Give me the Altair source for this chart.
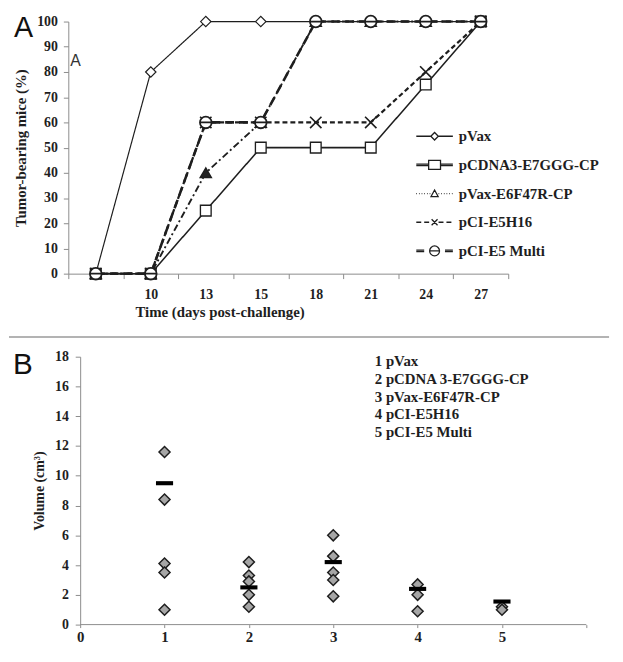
import altair as alt
import pandas as pd

# ---------------- Panel A data ----------------
SERIES = ["pVax", "pCDNA3-E7GGG-CP", "pVax-E6F47R-CP", "pCI-E5H16", "pCI-E5 Multi"]
DAYS = ["", "10", "13", "15", "18", "21", "24", "27"]
PVAX = [0, 80, 100, 100, 100, 100, 100, 100]
PCDNA3 = [0, 0, 25, 50, 50, 50, 75, 100]
E6F47R = [0, 0, 40, 60, 100, 100, 100, 100]
E5H16 = [0, 0, 60, 60, 60, 60, 80, 100]
MULTI = [0, 0, 60, 60, 100, 100, 100, 100]
Y_TICKS_A = list(range(0, 101, 10))

# ---------------- Panel B data ----------------
B_LABELS = ["1 pVax", "2 pCDNA 3-E7GGG-CP", "3 pVax-E6F47R-CP", "4 pCI-E5H16", "5 pCI-E5 Multi"]
GROUPS = [1, 2, 3, 4, 5]
G1 = [11.6, 8.4, 4.1, 3.5, 1.0]
G2 = [4.2, 3.3, 2.9, 2.0, 1.2]
G3 = [6.0, 4.6, 3.5, 3.0, 1.9]
G4 = [2.7, 2.0, 0.9]
G5 = [1.2, 1.0]
MEANS = [9.5, 2.5, 4.2, 2.4, 1.55]
X_TICKS_B = [0, 1, 2, 3, 4, 5, 6]
Y_TICKS_B = list(range(0, 19, 2))
PANEL_LABELS = ["A", "B"]
INSET_LABEL = ["A"]

SERIF = "Liberation Serif"
SANS = "Liberation Sans"
INK = "#1e1e1e"
GRAY = "#8c8c8c"

# ---------------- tables ----------------
rowsA = []
for s, vals in zip(SERIES, [PVAX, PCDNA3, E6F47R, E5H16, MULTI]):
    for i, (d, v) in enumerate(zip(DAYS, vals)):
        rowsA.append({"series": s, "day": d, "value": v, "idx": i})
dfA = pd.DataFrame(rowsA)
dfLeg = pd.DataFrame({"series": SERIES})

rowsB = []
for g, lab, vals in zip(GROUPS, B_LABELS, [G1, G2, G3, G4, G5]):
    for v in vals:
        rowsB.append({"group": g, "volume": v, "label": lab})
dfB = pd.DataFrame(rowsB)
dfM = pd.DataFrame({"group": GROUPS, "volume": MEANS})

# ---------------- styles ----------------
DASHES = [[1, 0], [1, 0], [7, 3, 2, 3], [5, 3], [9, 5]]
WIDTHS = [1.2, 2.6, 2.0, 2.2, 2.8]
CROSS = "M-1,-1L1,1M-1,1L1,-1"
CIRCLE_MINUS = "M-1,0A1,1,0,1,1,1,0A1,1,0,1,1,-1,0ZM-1,0L1,0"
SHAPES = ["diamond", "square", "triangle-up", CROSS, CIRCLE_MINUS]
SIZES = [110, 140, 32, 55, 170]
MARK_SW = [1.2, 1.8, 1.5, 1.5, 1.8]
FILLS = ["white", "white", "#222222", "white", "white"]


def segs(x0, x1, dash, gap, y=0.0):
    out = []
    x = x0
    while x < x1 - 1e-9:
        e = min(x + dash, x1)
        out.append(f"M{x:.2f},{y:.2f}L{e:.2f},{y:.2f}")
        x = e + gap
    return "".join(out)


def both_sides(inner, outer, dash, gap, thick=False):
    ys = [-0.08, 0.08] if thick else [0.0]
    out = ""
    for y in ys:
        out += segs(-outer, -inner, dash, gap, y) + segs(inner, outer, dash, gap, y)
    return out


L = 1.85
LEG_PATHS = [
    both_sides(0.42, L, 5, 0) + "M-0.38,0L0,-0.38L0.38,0L0,0.38Z",
    both_sides(0.6, L, 5, 0, thick=True) + "M-0.6,-0.45L0.6,-0.45L0.6,0.45L-0.6,0.45Z",
    both_sides(0.4, L, 0.07, 0.2) + "M0,-0.36L0.36,0.3L-0.36,0.3Z",
    both_sides(0.4, L, 0.5, 0.3) + "M-0.3,-0.3L0.3,0.3M-0.3,0.3L0.3,-0.3",
    both_sides(1.05, L, 0.8, 0, thick=True) + "M-0.5,0A0.5,0.5,0,1,1,0.5,0A0.5,0.5,0,1,1,-0.5,0ZM-0.5,0L0.5,0",
]

axis_common = dict(
    labelFont=SERIF, labelFontWeight="bold", labelColor=INK,
    titleFont=SERIF, titleFontWeight="bold", titleColor=INK,
    domainColor=GRAY, tickColor=GRAY, grid=False, labelOverlap=False,
)

# ---------------- Panel A ----------------
xA = alt.X(
    "day:O", sort=DAYS,
    scale=alt.Scale(type="band", paddingInner=0, paddingOuter=0),
    axis=alt.Axis(
        title="Time (days post-challenge)", labelAngle=0, tickBand="extent",
        labelFontSize=14, titleFontSize=15, tickSize=5, labelPadding=9,
        titlePadding=3, titleX=153, titleAlign="center", **axis_common,
    ),
)
scaleYA = alt.Scale(domain=[0, 100], nice=False)
yA = alt.Y(
    "value:Q", scale=scaleYA,
    axis=alt.Axis(
        title="Tumor-bearing mice (%)", values=Y_TICKS_A,
        labelFontSize=14, titleFontSize=15, tickSize=5, labelPadding=6,
        titlePadding=8, **axis_common,
    ),
)
yA_plain = alt.Y("value:Q", scale=scaleYA, axis=None)

baseA = alt.Chart(dfA)
linesA = baseA.mark_line(color=INK).encode(
    x=xA, y=yA,
    detail="series:N",
    order=alt.Order("idx:Q"),
    strokeDash=alt.StrokeDash("series:N", scale=alt.Scale(domain=SERIES, range=DASHES), legend=None),
    strokeWidth=alt.StrokeWidth("series:N", scale=alt.Scale(domain=SERIES, range=WIDTHS), legend=None),
)
pointsA = baseA.mark_point(filled=True, stroke=INK, opacity=1).encode(
    x=xA, y=yA_plain,
    shape=alt.Shape("series:N", scale=alt.Scale(domain=SERIES, range=SHAPES), legend=None),
    size=alt.Size("series:N", scale=alt.Scale(domain=SERIES, range=SIZES), legend=None),
    strokeWidth=alt.StrokeWidth("series:N", scale=alt.Scale(domain=SERIES, range=MARK_SW), legend=None),
    fill=alt.Fill("series:N", scale=alt.Scale(domain=SERIES, range=FILLS), legend=None),
)

# key (legend) of panel A: one row per series
legY = alt.Y("series:N", sort=SERIES, scale=alt.Scale(type="point", range=[116, 232], padding=0), axis=None)
legSym = alt.Chart(dfLeg).mark_point(
    filled=True, fill="white", stroke=INK, strokeWidth=1.3, size=400, opacity=1
).encode(
    x=alt.value(370.5), y=legY,
    shape=alt.Shape("series:N", scale=alt.Scale(domain=SERIES, range=LEG_PATHS), legend=None),
)
legTxt = alt.Chart(dfLeg).mark_text(
    font=SERIF, fontWeight="bold", fontSize=15, align="left", baseline="middle", color=INK
).encode(x=alt.value(395), y=legY, text="series:N")

panelA_label = alt.Chart(pd.DataFrame({"t": PANEL_LABELS[:1]})).mark_text(
    font=SANS, fontSize=29, align="left", baseline="alphabetic", color="#111111"
).encode(x=alt.value(-55), y=alt.value(16), text="t:N")
inset_label = alt.Chart(pd.DataFrame({"t": INSET_LABEL})).mark_text(
    font=SANS, fontSize=16, align="left", baseline="alphabetic", color="#333333"
).encode(x=alt.value(2), y=alt.value(45), text="t:N")

chartA = alt.layer(linesA, pointsA, legSym, legTxt, panelA_label, inset_label).resolve_scale(
    shape="independent", strokeWidth="independent", y="independent"
).properties(width=445, height=255)

# ---------------- Panel B ----------------
x_min_px = -12 / (512 / 6)
scaleXB = alt.Scale(domain=[x_min_px, X_TICKS_B[-1]], nice=False, zero=False)
scaleYB = alt.Scale(domain=[0, 18], nice=False)
axisXB = alt.Axis(
    title=None, values=X_TICKS_B, domain=False, tickSize=3, labelPadding=2,
    labelFontSize=15, format="d",
    labelExpr="datum.value == 6 ? '' : datum.label",
    **axis_common,
)
axisYB = alt.Axis(
    title="Volume  (cm³)", values=Y_TICKS_B, offset=-12, format="d",
    labelFontSize=14, titleFontSize=14, tickSize=5, labelPadding=7,
    titlePadding=8, **axis_common,
)
xB = alt.X("group:Q", scale=scaleXB, axis=axisXB)
yB = alt.Y("volume:Q", scale=scaleYB, axis=axisYB)

diamonds = alt.Chart(dfB).mark_point(
    shape="diamond", filled=True, stroke=INK, strokeWidth=1.5, size=125, opacity=1
).encode(
    x=xB, y=yB,
    fill=alt.Fill(
        "label:N",
        scale=alt.Scale(domain=B_LABELS, range=["#a6a6a6"] * 5),
        legend=alt.Legend(
            title=None, orient="none", legendX=295, legendY=-3,
            symbolSize=0, symbolOpacity=0, labelOffset=0, rowPadding=2,
            padding=0, labelFont=SERIF, labelFontWeight="bold",
            labelFontSize=15, labelColor=INK, labelLimit=400,
        ),
    ),
)
MEAN_PATH = "M-1,-0.24L1,-0.24L1,0.24L-1,0.24Z"
means = alt.Chart(dfM).mark_point(
    shape=MEAN_PATH, filled=True, color="#000000", size=300, opacity=1
).encode(x=xB, y=yB)

axis_line = alt.Chart(
    pd.DataFrame({"group": [X_TICKS_B[0]], "g2": [X_TICKS_B[-1]], "volume": [Y_TICKS_B[0]]})
).mark_rule(color=GRAY, strokeWidth=1).encode(x=xB, x2="g2:Q", y=yB)

separator = alt.Chart(pd.DataFrame({"t": [""]})).mark_rule(
    color="#9a9a9a", strokeWidth=1.5
).encode(x=alt.value(-60), x2=alt.value(547), y=alt.value(-20))
panelB_label = alt.Chart(pd.DataFrame({"t": PANEL_LABELS[1:]})).mark_text(
    font=SANS, fontSize=30, align="left", baseline="alphabetic", color="#111111"
).encode(x=alt.value(-56), y=alt.value(17), text="t:N")

chartB = alt.layer(diamonds, means, axis_line, separator, panelB_label).properties(
    width=524, height=271
)

chart = alt.vconcat(chartA, chartB, spacing=17).resolve_scale(
    fill="independent", shape="independent", size="independent",
    strokeWidth="independent", strokeDash="independent",
).resolve_legend(
    fill="independent", shape="independent",
).properties(
    padding={"left": 0, "top": 0, "right": 5, "bottom": 5}
).configure_view(stroke=None)

chart.save("out.html", embed_options={"renderer": "svg", "actions": False})
